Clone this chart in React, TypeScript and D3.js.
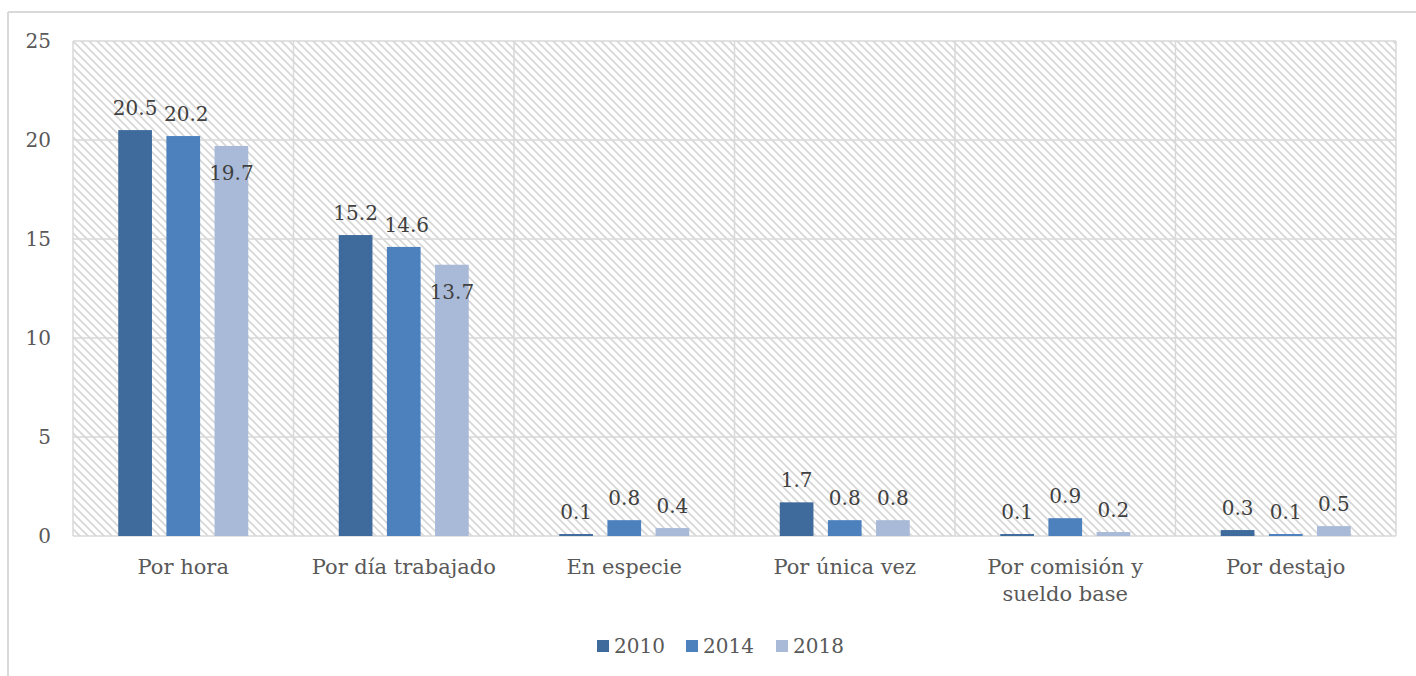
import React from "react";
import * as d3 from "d3";

const categories = ["Por hora", "Por día trabajado", "En especie", "Por única vez", "Por comisión y|sueldo base", "Por destajo"];
const seriesNames = ["2010", "2014", "2018"];
const values2010 = [20.5, 15.2, 0.1, 1.7, 0.1, 0.3];
const values2014 = [20.2, 14.6, 0.8, 0.8, 0.9, 0.1];
const values2018 = [19.7, 13.7, 0.4, 0.8, 0.2, 0.5];
const yTicks = [0, 5, 10, 15, 20, 25];
const colors = ["#3e6a9c", "#4d81bd", "#a9bad8"];

const W = 1416, H = 676;
const left = 73, right = 1396, top = 41, bottom = 536;
const FONT = "'DejaVu Serif', serif";

export default function App() {
  const series = [values2010, values2014, values2018];
  const x = d3.scaleBand<number>().domain(d3.range(categories.length)).range([left, right]).padding(0);
  const y = d3.scaleLinear().domain([0, 25]).range([bottom, top]);
  const bw = x.bandwidth();
  const inner = d3.scaleBand<number>().domain([0, 1, 2]).range([bw / 2 - 65, bw / 2 + 65]).paddingInner(0.3).paddingOuter(0);
  const legendX = [597, 686, 776];

  return (
    <svg width={W} height={H} style={{ position: "absolute", left: 0, top: 0 }}>
      <defs>
        <pattern id="hatch" patternUnits="userSpaceOnUse" width="8" height="8">
          <rect width="8" height="8" fill="#fff" />
          <path d="M-2,-2 L10,10 M-2,6 L2,10 M6,-2 L10,2" stroke="#d6d6d6" strokeWidth="1.6" />
        </pattern>
      </defs>
      <rect x={0} y={0} width={W} height={H} fill="#fff" />
      <line x1={8} y1={12} x2={W} y2={12} stroke="#d9d9d9" strokeWidth={2} />
      <line x1={8} y1={12} x2={8} y2={H} stroke="#d9d9d9" strokeWidth={2} />
      <rect x={left} y={top} width={right - left} height={bottom - top} fill="url(#hatch)" />
      {yTicks.map((t) => (
        <g key={t}>
          <line x1={left} x2={right} y1={y(t)} y2={y(t)} stroke="#d9d9d9" strokeWidth={1.5} />
          <text x={51} y={y(t)} dy="0.35em" textAnchor="end" fontFamily={FONT} fontSize={20} fill="#595959">{t}</text>
        </g>
      ))}
      {d3.range(categories.length + 1).map((i) => {
        const xx = i < categories.length ? x(i)! : right;
        return <line key={i} x1={xx} x2={xx} y1={top} y2={bottom} stroke="#d9d9d9" strokeWidth={1.5} />;
      })}
      {categories.map((c, i) => (
        <g key={c}>
          {series.map((vals, s) => {
            const bx = x(i)! + inner(s)!;
            const by = y(vals[i]);
            const h = bottom - by;
            const inside = s === 2 && vals[i] > 10;
            const ly = inside ? by + 27 : by - 22;
            return (
              <g key={s}>
                <rect x={bx} y={by} width={inner.bandwidth()} height={h} fill={colors[s]} />
                <text x={bx + inner.bandwidth() / 2 + (s === 1 && vals[i] > 10 ? 3 : 0)} y={ly} dy="0.35em" textAnchor="middle" fontFamily={FONT} fontSize={20} fill="#404040">{vals[i].toFixed(1)}</text>
              </g>
            );
          })}
          {c.split("|").map((line, k) => (
            <text key={k} x={x(i)! + bw / 2} y={567 + k * 27} dy="0.35em" textAnchor="middle" fontFamily={FONT} fontSize={21} fill="#595959">{line}</text>
          ))}
        </g>
      ))}
      {seriesNames.map((n, s) => (
        <g key={n}>
          <rect x={legendX[s]} y={640} width={12} height={12} fill={colors[s]} />
          <text x={legendX[s] + 17} y={646} dy="0.35em" fontFamily={FONT} fontSize={20} fill="#595959">{n}</text>
        </g>
      ))}
    </svg>
  );
}
